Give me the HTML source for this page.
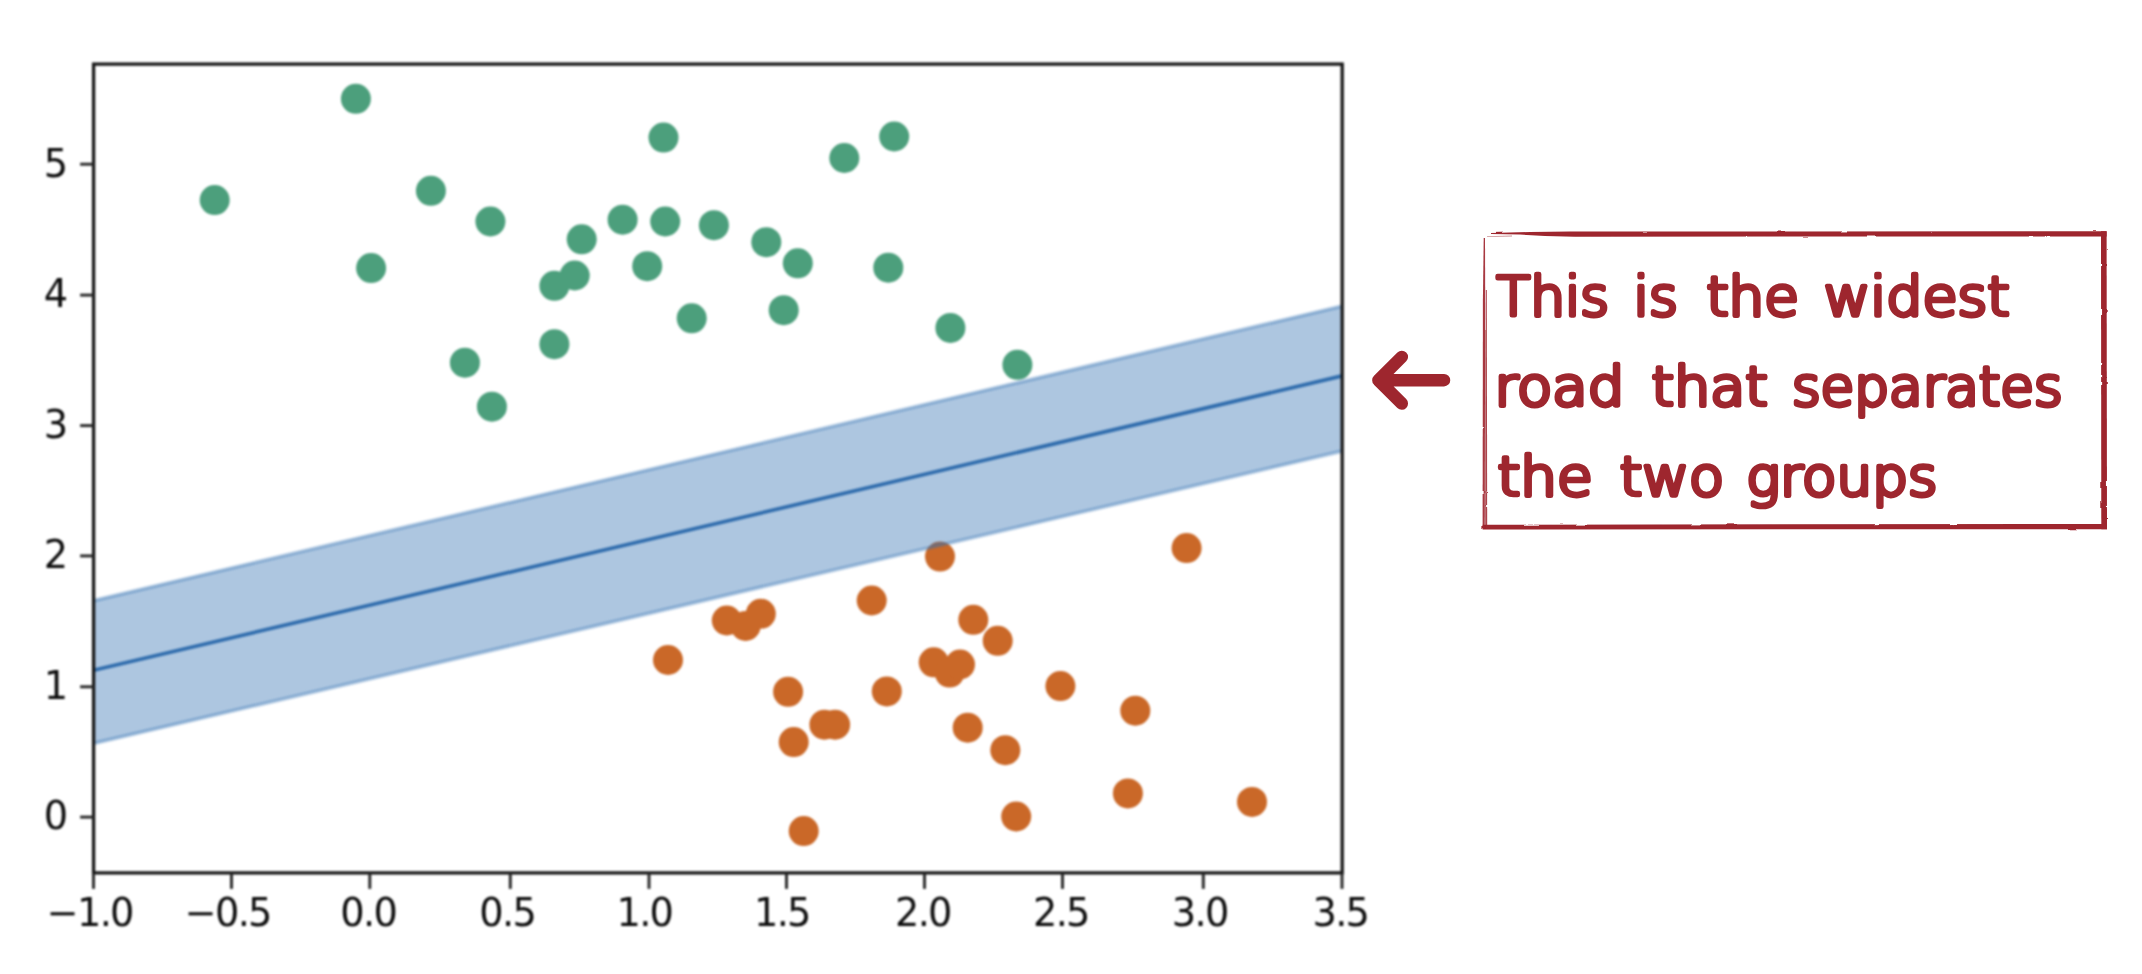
<!DOCTYPE html>
<html lang="en">
<head>
<meta charset="utf-8">
<title>Widest road SVM margin</title>
<style>
html,body{margin:0;padding:0;background:#fff;}
body{width:2142px;height:974px;overflow:hidden;position:relative;}
svg{position:absolute;left:0;top:0;display:block;}
.tick{font-family:"DejaVu Sans","Liberation Sans",sans-serif;font-size:38.3px;letter-spacing:-1.7px;fill:#0c0c0c;}
.note{font-family:"DejaVu Sans Light","DejaVu Sans","Liberation Sans",sans-serif;font-weight:200;font-size:53px;fill:#9e262e;stroke:#9e262e;stroke-width:4.6;stroke-linejoin:round;stroke-linecap:round;}
#chart{filter:blur(1.3px);}
</style>
</head>
<body>
<svg id="chart" width="2142" height="974" viewBox="0 0 2142 974">
<g fill="#4c9f7c">
<circle cx="214.7" cy="200.1" r="15.0"/><circle cx="355.9" cy="98.8" r="15.0"/><circle cx="430.9" cy="190.8" r="15.0"/><circle cx="490.4" cy="221.5" r="15.0"/><circle cx="371.1" cy="268.1" r="15.0"/><circle cx="581.7" cy="239.3" r="15.0"/><circle cx="622.6" cy="219.7" r="15.0"/><circle cx="665.2" cy="221.5" r="15.0"/><circle cx="663.5" cy="137.6" r="15.0"/><circle cx="647.2" cy="266.2" r="15.0"/><circle cx="574.7" cy="275.5" r="15.0"/><circle cx="554.4" cy="285.8" r="15.0"/><circle cx="554.4" cy="344.2" r="15.0"/><circle cx="464.9" cy="362.7" r="15.0"/><circle cx="491.9" cy="406.7" r="15.0"/><circle cx="713.9" cy="225.2" r="15.0"/><circle cx="766.3" cy="242.2" r="15.0"/><circle cx="797.8" cy="263.3" r="15.0"/><circle cx="691.7" cy="318.3" r="15.0"/><circle cx="783.7" cy="310.2" r="15.0"/><circle cx="844.3" cy="158" r="15.0"/><circle cx="894.2" cy="136.5" r="15.0"/><circle cx="888.3" cy="267.7" r="15.0"/><circle cx="950.4" cy="327.9" r="15.0"/><circle cx="1017.4" cy="364.8" r="15.0"/>
</g>
<g fill="#ca6828">
<circle cx="668" cy="660" r="15.0"/><circle cx="726.8" cy="620.5" r="15.0"/><circle cx="745.6" cy="626" r="15.0"/><circle cx="760.8" cy="613.8" r="15.0"/><circle cx="871.7" cy="600.5" r="15.0"/><circle cx="940" cy="556.6" r="15.0"/><circle cx="973.3" cy="619.8" r="15.0"/><circle cx="997.7" cy="640.8" r="15.0"/><circle cx="933.7" cy="662.3" r="15.0"/><circle cx="949.6" cy="672.6" r="15.0"/><circle cx="960" cy="664.5" r="15.0"/><circle cx="788.1" cy="691.8" r="15.0"/><circle cx="886.8" cy="691.4" r="15.0"/><circle cx="1060.4" cy="686.1" r="15.0"/><circle cx="824.4" cy="724.7" r="15.0"/><circle cx="835.1" cy="724.7" r="15.0"/><circle cx="793.7" cy="742.1" r="15.0"/><circle cx="967.7" cy="727.7" r="15.0"/><circle cx="1005.3" cy="750.2" r="15.0"/><circle cx="803.7" cy="831.1" r="15.0"/><circle cx="1016.2" cy="816.5" r="15.0"/><circle cx="1186.6" cy="548.1" r="15.0"/><circle cx="1135.3" cy="710.7" r="15.0"/><circle cx="1127.9" cy="793.4" r="15.0"/><circle cx="1252" cy="801.9" r="15.0"/>
</g>
<polygon points="93.6,600.6 1342.2,306.1 1342.2,451.1 93.6,743.4" fill="#3270b2" fill-opacity="0.4"/>
<path d="M93.6 600.6 L1342.2 306.1 M1342.2 451.1 L93.6 743.4" fill="none" stroke="#3270b2" stroke-opacity="0.4" stroke-width="3.7"/>
<line x1="93.6" y1="670.3" x2="1342.2" y2="375.9" stroke="#2f6cad" stroke-width="3.7"/>
<rect x="93.6" y="64.1" width="1248.6" height="808.8" fill="none" stroke="#161616" stroke-width="3.3"/>
<g stroke="#262626" stroke-width="2.9">
<line x1="93.5" y1="872.9" x2="93.5" y2="888.9"/><line x1="231.5" y1="872.9" x2="231.5" y2="888.9"/><line x1="369.8" y1="872.9" x2="369.8" y2="888.9"/><line x1="510.3" y1="872.9" x2="510.3" y2="888.9"/><line x1="649" y1="872.9" x2="649" y2="888.9"/><line x1="786.5" y1="872.9" x2="786.5" y2="888.9"/><line x1="924.5" y1="872.9" x2="924.5" y2="888.9"/><line x1="1062.5" y1="872.9" x2="1062.5" y2="888.9"/><line x1="1203.3" y1="872.9" x2="1203.3" y2="888.9"/><line x1="1342" y1="872.9" x2="1342" y2="888.9"/><line x1="80.1" y1="164.2" x2="93.6" y2="164.2"/><line x1="80.1" y1="295.1" x2="93.6" y2="295.1"/><line x1="80.1" y1="425.6" x2="93.6" y2="425.6"/><line x1="80.1" y1="555.9" x2="93.6" y2="555.9"/><line x1="80.1" y1="686.8" x2="93.6" y2="686.8"/><line x1="80.1" y1="817.1" x2="93.6" y2="817.1"/>
</g>
<g class="tick" text-anchor="middle">
<text x="89.7" y="925.6">−1.0</text><text x="227.7" y="925.6">−0.5</text><text x="368.2" y="925.6">0.0</text><text x="507.2" y="925.6">0.5</text><text x="644.4" y="925.6">1.0</text><text x="781.9" y="925.6">1.5</text><text x="922.9" y="925.6">2.0</text><text x="1060.9" y="925.6">2.5</text><text x="1199.7" y="925.6">3.0</text><text x="1340.4" y="925.6">3.5</text>
</g>
<g class="tick" text-anchor="end">
<text x="66.5" y="176.5">5</text><text x="66.5" y="307.4">4</text><text x="66.5" y="437.9">3</text><text x="66.5" y="568.2">2</text><text x="66.5" y="699.1">1</text><text x="66.5" y="829.4">0</text>
</g>
</svg>
<svg id="note" width="2142" height="974" viewBox="0 0 2142 974">
<path d="M1444 380.2 H1378.4 M1401.8 356.9 L1378.4 380.2 L1401.8 403.5" fill="none" stroke="#9e262e" stroke-width="12.5" stroke-linecap="round" stroke-linejoin="round"/>
<defs><filter id="rough" x="-2%" y="-4%" width="104%" height="108%"><feTurbulence type="fractalNoise" baseFrequency="0.035 0.09" numOctaves="2" seed="7" result="n"/><feDisplacementMap in="SourceGraphic" in2="n" scale="2.2" xChannelSelector="R" yChannelSelector="G"/></filter></defs>
<g fill="#9e262e" stroke="none" filter="url(#rough)">
<path d="M1491 232.9 L1530 232.0 L1570 231.5 L2106.6 231.3 L2106.6 236.5 L1575 236.7 L1545 236.0 L1520 234.6 L1491 234.0 Z"/>
<path d="M2101.0 231.3 L2106.6 231.3 L2107.0 529.3 L2101.3 529.3 Z"/>
<path d="M1482.6 524.7 L2107.0 523.9 L2107.0 529.3 L1482.6 529.4 Z"/>
<path d="M1483.7 238 L1485.0 238 L1485.2 300 L1484.7 529 L1482.6 529 L1482.9 300 Z" opacity="0.9"/>
<path d="M1485.8 290 L1486.8 290 L1487.2 529 L1485.5 529 Z" opacity="0.85"/>
<path d="M1484.6 330 L1485.8 330 L1485.8 529 L1484.6 529 Z" opacity="0.55"/>
<path d="M1487 236.2 L1512 235.6 L1512 236.4 L1487 237 Z" opacity="0.5"/>
</g>
<g class="note">
<text y="315.1"><tspan x="1496.5" textLength="112.5" lengthAdjust="spacingAndGlyphs">This</tspan> <tspan x="1633.6" textLength="44.2" lengthAdjust="spacingAndGlyphs">is</tspan> <tspan x="1706.5" textLength="92.5" lengthAdjust="spacingAndGlyphs">the</tspan> <tspan x="1823.7" textLength="185.9" lengthAdjust="spacingAndGlyphs">widest</tspan></text>
<text y="404.5"><tspan x="1494.5" textLength="129.8" lengthAdjust="spacingAndGlyphs">road</tspan> <tspan x="1651.6" textLength="116.2" lengthAdjust="spacingAndGlyphs">that</tspan> <tspan x="1791.9" textLength="270.8" lengthAdjust="spacingAndGlyphs">separates</tspan></text>
<text y="494.6"><tspan x="1497.5" textLength="95.1" lengthAdjust="spacingAndGlyphs">the</tspan> <tspan x="1619.8" textLength="104.3" lengthAdjust="spacingAndGlyphs">two</tspan> <tspan x="1746.3" textLength="191.0" lengthAdjust="spacingAndGlyphs">groups</tspan></text>
</g>
</svg>
</body>
</html>
